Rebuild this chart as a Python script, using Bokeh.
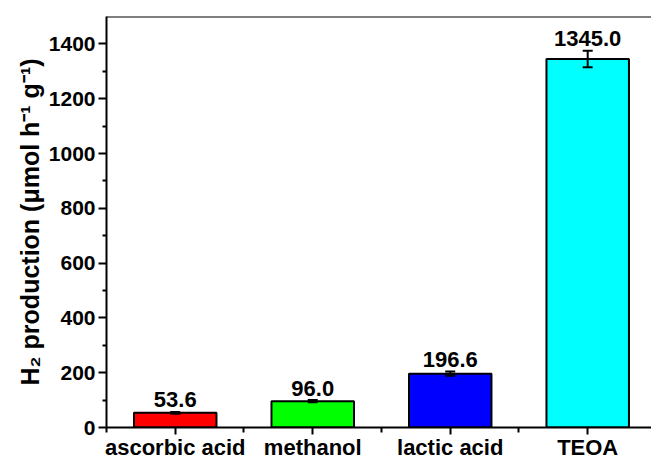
from bokeh.plotting import figure
from bokeh.models import ColumnDataSource, FixedTicker, Whisker, TeeHead, Span
from bokeh.core.properties import value
from bokeh.embed import file_html
from bokeh.resources import INLINE

# ---- data ----
categories = ["ascorbic acid", "methanol", "lactic acid", "TEOA"]
production = [53.6, 96.0, 196.6, 1345.0]
errors = [3.0, 4.0, 8.0, 30.0]
bar_colors = ["#FF0000", "#00FF00", "#0000FF", "#00FFFF"]
y_major_ticks = [0, 200, 400, 600, 800, 1000, 1200, 1400]
y_minor_ticks = [100, 300, 500, 700, 900, 1100, 1300]
y_title = "H₂ production (μmol h⁻¹ g⁻¹)"

FONT = "Liberation Sans"
Y_MAX = 1500
X_START = -0.5
X_END = 3.464

xs = list(range(len(categories)))
src = ColumnDataSource(dict(
    x=xs,
    top=production,
    upper=[v + e for v, e in zip(production, errors)],
    lower=[v - e for v, e in zip(production, errors)],
    color=bar_colors,
    label=["%.1f" % v for v in production],
))

p = figure(width=651, height=462, output_backend="svg", toolbar_location=None,
           x_range=(X_START, X_END), y_range=(0, Y_MAX),
           min_border_left=106, min_border_right=0, min_border_top=16,
           min_border_bottom=34)
p.outline_line_color = None
p.grid.grid_line_color = None
p.background_fill_color = "white"
p.border_fill_color = "white"

p.vbar(x="x", top="top", bottom=0, width=0.6, fill_color="color",
       line_color="black", line_width=2, source=src)

w = Whisker(source=src, base="x", upper="upper", lower="lower",
            line_color="black", line_width=2, level="annotation",
            upper_head=TeeHead(size=10, line_width=2, line_color="black"),
            lower_head=TeeHead(size=10, line_width=2, line_color="black"))
p.add_layout(w)

p.text(x="x", y="upper", text="label", source=src, text_align="center",
       text_baseline="alphabetic", text_font=value(FONT), text_font_style="bold",
       text_font_size="22px", text_color="black", y_offset=-12)

# top frame line
p.add_layout(Span(location=Y_MAX, dimension="width", line_color="black", line_width=2))

# axes
for ax in (p.xaxis[0], p.yaxis[0]):
    ax.axis_line_width = 2
    ax.axis_line_color = "black"
    ax.major_tick_line_width = 2
    ax.minor_tick_line_width = 2
    ax.major_tick_in = 0
    ax.minor_tick_in = 0
    ax.major_label_text_font = FONT
    ax.major_label_text_font_style = "bold"
    ax.major_label_text_font_size = "21px"
    ax.major_label_text_color = "black"

p.yaxis.ticker = FixedTicker(ticks=y_major_ticks, minor_ticks=y_minor_ticks)
p.yaxis.major_tick_out = 8
p.yaxis.minor_tick_out = 4
p.yaxis.major_label_standoff = 3
p.yaxis.axis_label = y_title
p.yaxis.axis_label_text_font = FONT
p.yaxis.axis_label_text_font_style = "bold"
p.yaxis.axis_label_text_font_size = "25px"
p.yaxis.axis_label_text_color = "black"
p.yaxis.axis_label_standoff = 2

p.xaxis.ticker = FixedTicker(ticks=xs, minor_ticks=[i - 0.5 for i in range(len(categories) + 1)])
p.xaxis.major_label_overrides = {i: c for i, c in enumerate(categories)}
p.xaxis.major_label_text_font_size = "22px"
p.xaxis.major_tick_out = 7
p.xaxis.minor_tick_out = 5
p.xaxis.major_label_standoff = 0

open("out.html", "w").write(file_html(p, INLINE))
